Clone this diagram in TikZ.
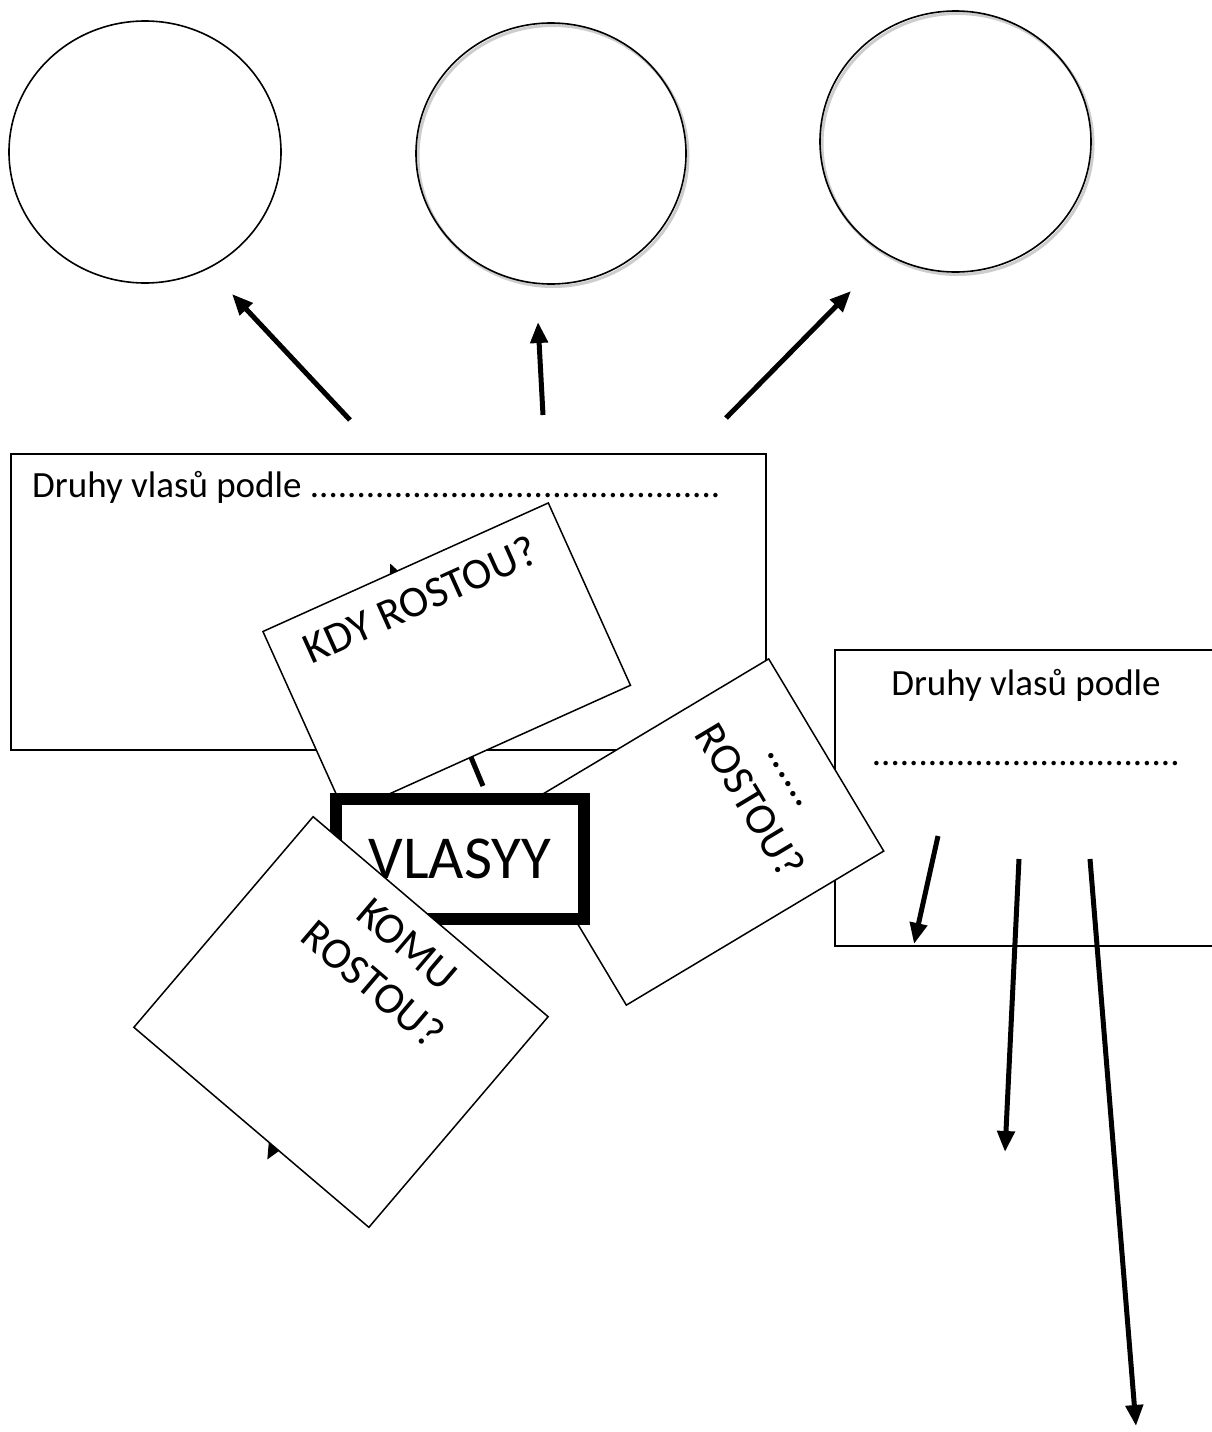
\documentclass[tikz,border=0pt]{standalone}
\usepackage{fontspec}
\setmainfont{Carlito}
\usetikzlibrary{shapes.geometric,arrows.meta,positioning}
\definecolor{shadowgray}{RGB}{205,205,205}
\newcommand{\druhyfont}{\fontsize{37}{45}\selectfont}
\newcommand{\cardfont}{\fontsize{44}{53}\selectfont}
\newcommand{\vlasyfont}{\fontsize{61}{73}\selectfont}

\begin{document}
\begin{tikzpicture}[x=1pt, y=-1pt,
		bubble/.style={draw, ellipse, line width=1.6pt, inner sep=0pt},
		infobox/.style={draw, line width=1.5pt, fill=white, inner sep=0pt, anchor=north west},
		card/.style={draw, line width=1.5pt, fill=white, inner sep=13pt, font=\cardfont},
		fat/.style={line width=5pt, -{Triangle[length=21pt,width=17pt]}}]
				\useasboundingbox (0,0) rectangle (1211,1432);
				
				% Draw the three empty circles
				\node[bubble, minimum width=272pt, minimum height=262pt] (kruh1) at (145,152) {};
				\node[bubble, draw=shadowgray, line width=3pt, minimum width=270pt, minimum height=261pt] (stin2) at (553,156) {};
				\node[bubble, minimum width=270pt, minimum height=261pt] (kruh2) at (551,153.5) {};
				\node[bubble, draw=shadowgray, line width=3pt, minimum width=271pt, minimum height=261pt] (stin3) at (957.5,144) {};
				\node[bubble, minimum width=271pt, minimum height=261pt] (kruh3) at (955.5,141.5) {};
				
				% Draw arrows up to the circles
				\coordinate (z1) at (350,420);
				\coordinate (k1) at (232,294);
				\coordinate (z2) at (543,415);
				\coordinate (k2) at (538,322);
				\coordinate (z3) at (726,418);
				\coordinate (k3) at (851,291);
				\draw[fat] (z1) -- (k1);
				\draw[fat] (z2) -- (k2);
				\draw[fat] (z3) -- (k3);
				
				% Draw the two boxes with text
				\node[infobox, minimum width=755pt, minimum height=296pt] (druhy1) at (10,453) {};
				\node[anchor=base west, inner sep=0pt, font=\druhyfont] (druhy1text) at (32,497) {Druhy vlasů podle ............................................};
				\node[infobox, minimum width=386pt, minimum height=296pt] (druhy2) at (834,649) {};
				\node[anchor=base, inner sep=0pt, font=\druhyfont] (druhy2text) at (1026,695) {Druhy vlasů podle};
				\node[anchor=base, inner sep=0pt, font=\druhyfont] (druhy2tecky) at (1026,765) {.................................};
				
				% Draw arrows out of the second box
				\coordinate (d1) at (938,836);
				\coordinate (e1) at (914,944);
				\coordinate (d2) at (1019,859);
				\coordinate (e2) at (1005,1152);
				\coordinate (d3) at (1090,859);
				\coordinate (e3) at (1136,1426);
				\draw[fat] (d1) -- (e1);
				\draw[fat] (d2) -- (e2);
				\draw[fat] (d3) -- (e3);
				
				% Draw arrows that the cards cover
				\coordinate (v1) at (483,786);
				\coordinate (w1) at (390,563);
				\coordinate (v2) at (400,925);
				\coordinate (w2) at (267,1160);
				\draw[fat] (v1) -- (w1);
				\draw[fat] (v2) -- (w2);
				
				% Draw the rotated cards and the centre
				\node[card, rotate=24.25] (kdy) at (446.7,658.4) {\parbox[t][174pt][t]{287pt}{\centering\strut KDY ROSTOU?}};
				\node[card, rotate=-59.1] (tecky) at (697.5,832) {\parbox[t][274pt][t]{198pt}{\centering\strut......\\ROSTOU?}};
				\node[draw, line width=12pt, fill=white, minimum width=248pt, minimum height=120pt, inner sep=0pt, font=\vlasyfont] (vlasy) at (460,859) {VLASYY};
				\node[card, rotate=-40.4] (komu) at (341,1022) {\parbox[t][250.6pt][t]{282.6pt}{\centering\strut KOMU\\ROSTOU?}};
			\end{tikzpicture}
\end{document}
